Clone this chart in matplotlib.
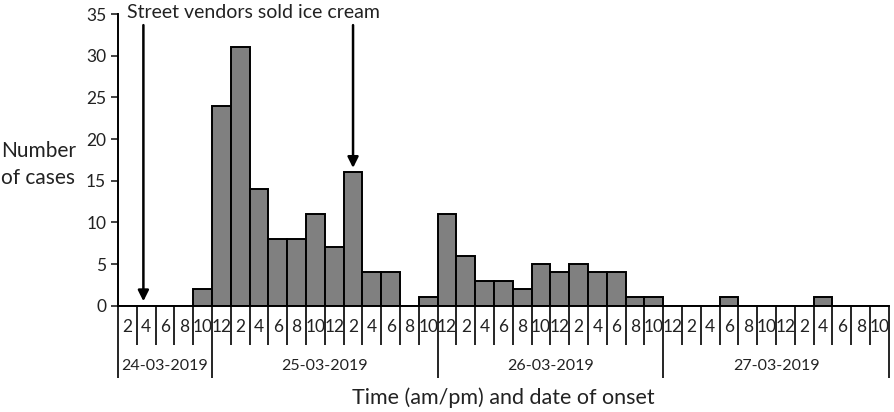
import matplotlib.pyplot as plt
import matplotlib.transforms as mtransforms

plt.rcParams['font.family'] = ['Lato', 'DejaVu Sans']

# Two-hour bins of onset time
dates = ['24-03-2019', '25-03-2019', '26-03-2019', '27-03-2019']
day_hours = ['12', '2', '4', '6', '8', '10', '12', '2', '4', '6', '8', '10']
hours_by_date = [['2', '4', '6', '8', '10'], day_hours, day_hours, day_hours]

cases = [0, 0, 0, 0, 2,
         24, 31, 14, 8, 8, 11, 7, 16, 4, 4, 0, 1,
         11, 6, 3, 3, 2, 5, 4, 5, 4, 4, 1, 1,
         0, 0, 0, 1, 0, 0, 0, 0, 1, 0, 0, 0]

# arrows point at these bins
arrow_bins = [1, 12]
arrow_text = 'Street vendors sold ice cream'

hour_labels = [h for hs in hours_by_date for h in hs]
n = len(cases)
centers = [i + 0.5 for i in range(n)]

fig = plt.figure(figsize=(8.94, 4.12), dpi=100)
ax = fig.add_axes([0.132, 0.258, 0.8623, 0.708])

ax.bar(centers, cases, width=1.0, color='#808080', edgecolor='black', linewidth=1.4)

ax.set_xlim(0, n)
ax.set_ylim(0, 35)
ax.set_yticks(range(0, 36, 5))
ax.tick_params(axis='y', direction='out', length=5, width=1.2, labelsize=12.5, colors='#222222')
for s in ['top', 'right']:
    ax.spines[s].set_visible(False)
for s in ['left', 'bottom']:
    ax.spines[s].set_linewidth(1.4)

# bin boundaries as minor ticks, date boundaries as major ticks
bounds = list(range(n + 1))
date_bounds = [0]
for hs in hours_by_date:
    date_bounds.append(date_bounds[-1] + len(hs))
ax.set_xticks(date_bounds)
ax.set_xticklabels([])
ax.set_xticks([b for b in bounds if b not in date_bounds], minor=True)
ax.tick_params(axis='x', which='major', direction='out', length=52, width=1.2)
ax.tick_params(axis='x', which='minor', direction='out', length=28, width=1.2)

trans = mtransforms.blended_transform_factory(ax.transData, ax.transAxes)
for c, h in zip(centers, hour_labels):
    ax.text(c, -0.072, h, transform=trans, ha='center', va='center', fontsize=12.5, color='#222222')
for i, d in enumerate(dates):
    mid = (date_bounds[i] + date_bounds[i + 1]) / 2
    ax.text(mid, -0.205, d, transform=trans, ha='center', va='center', fontsize=11.5, color='#222222')

ax.text(0.5, -0.315, 'Time (am/pm) and date of onset', transform=ax.transAxes,
        ha='center', va='center', fontsize=15.5, color='#222222')
fig.text(0.043, 0.6, 'Number\nof cases', ha='center', va='center', fontsize=15,
         color='#222222', linespacing=1.45)

# arrows
for b in arrow_bins:
    x = centers[b] - 0.15 if b == 1 else centers[b]
    ax.annotate('', xy=(x, cases[b] + 0.2), xytext=(x, 34),
                arrowprops=dict(arrowstyle='-|>', color='black', lw=1.8, mutation_scale=16),
                annotation_clip=False)
ax.text(0.48, 35.2, arrow_text, ha='left', va='center', fontsize=14, color='#222222', clip_on=False)

fig.savefig('out.png', dpi=100)
